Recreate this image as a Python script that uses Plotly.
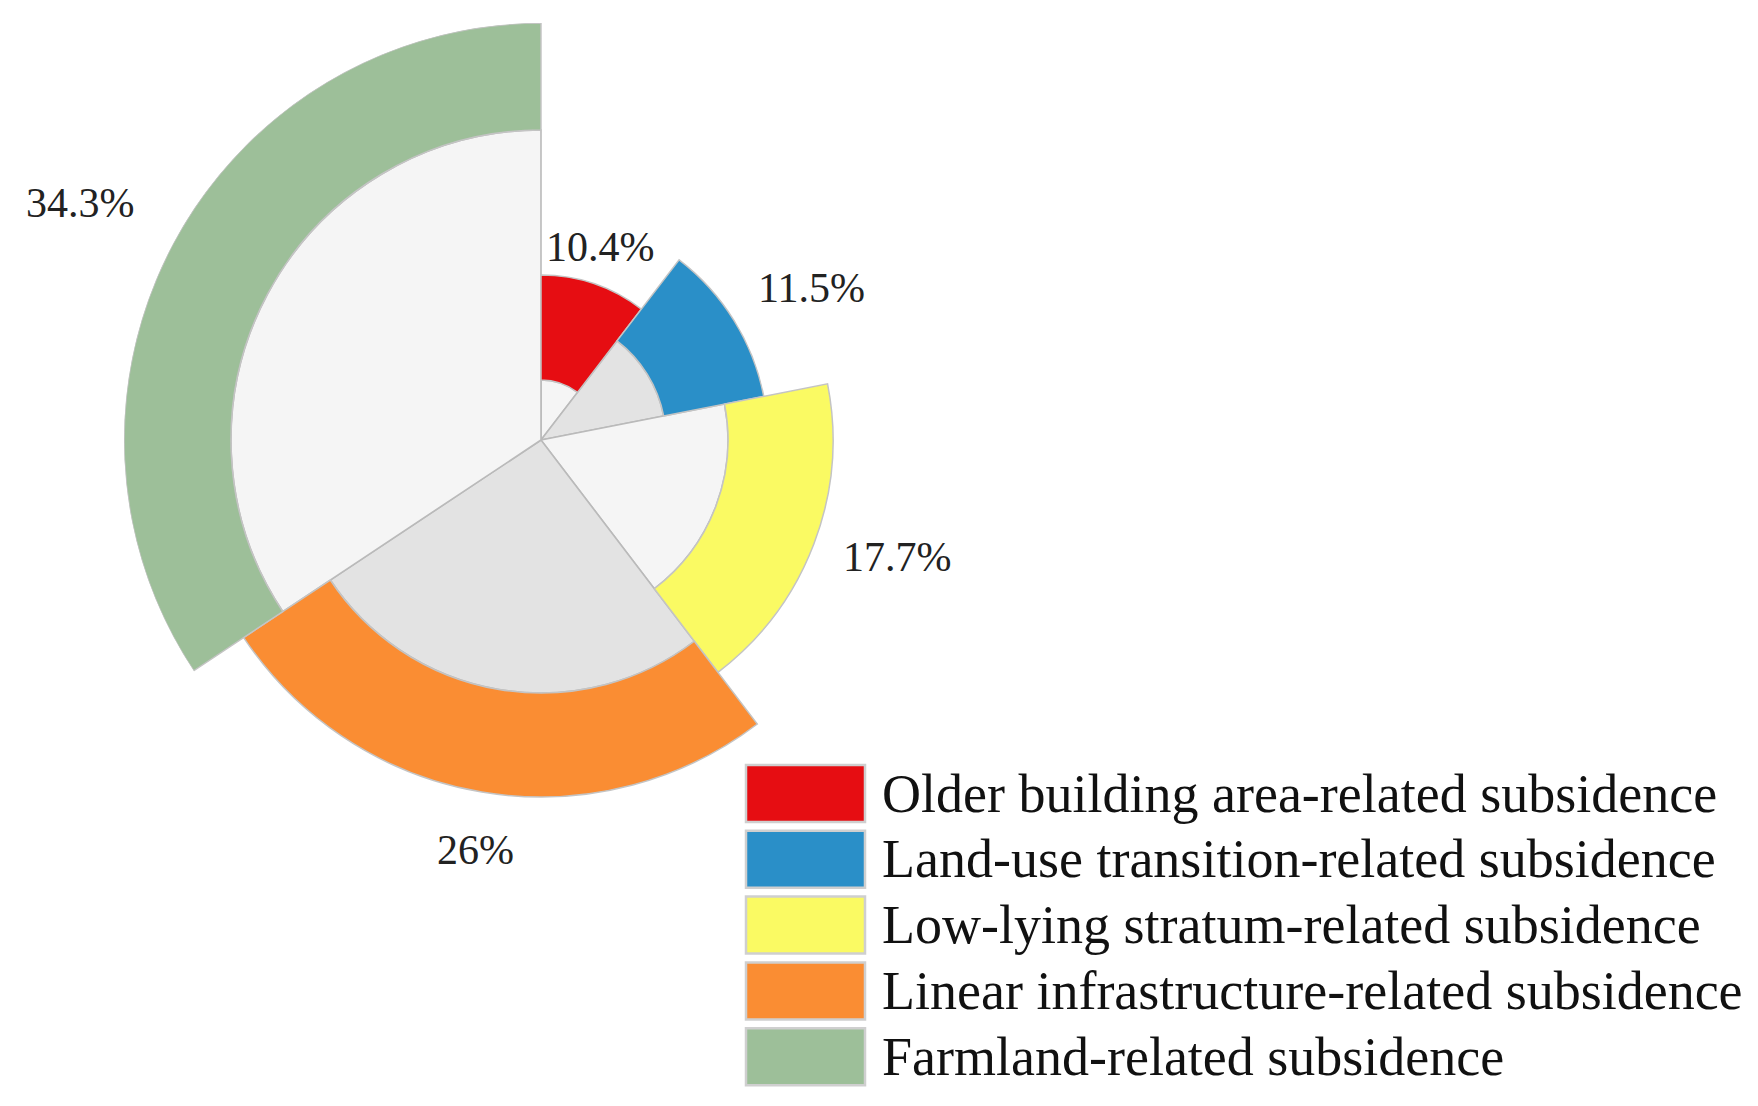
import math
import plotly.graph_objects as go

# ---- data ----
categories = [
    "Older building area-related subsidence",
    "Land-use transition-related subsidence",
    "Low-lying stratum-related subsidence",
    "Linear infrastructure-related subsidence",
    "Farmland-related subsidence",
]
percent = [10.4, 11.5, 17.7, 26.0, 34.3]
inner_r = [60, 125, 187, 253, 310]      # radius of grey core of each sector
outer_r = [165, 227, 292, 357, 417]     # outer radius of coloured band
label_r = [202, 310, 375, 415, 518]     # radius at which the % label sits
label_theta = [17.0, 60.6, 108.2, 189.1, 297.2]  # angle (deg, clockwise from top) of labels
colors = ["#e60d12", "#2a8fc8", "#fafa63", "#fa8d33", "#9dbf99"]
core_colors = ["#f5f5f5", "#e3e3e3", "#f5f5f5", "#e3e3e3", "#f5f5f5"]
labels = [f"{p:g}%" for p in percent]

# ---- geometry derived from data ----
total = sum(percent)
widths = [p / total * 360 for p in percent]
thetas = []
acc = 0
for w in widths:
    thetas.append(acc + w / 2)
    acc += w
band = [o - i for o, i in zip(outer_r, inner_r)]

W, H = 1758, 1106
OFF = 8                    # page body margin
CX, CY = 541 - OFF, 440 - OFF   # pixel centre of the polar chart
RMAX = outer_r[-1]


def px(x):
    return x / W


def py(y):
    return 1 - y / H


fig = go.Figure()

fig.add_trace(go.Barpolar(
    r=inner_r, theta=thetas, width=widths, base=0,
    marker=dict(color=core_colors, line=dict(color="#bababa", width=1.6)),
    showlegend=False, hoverinfo="skip",
))
fig.add_trace(go.Barpolar(
    r=band, theta=thetas, width=widths, base=inner_r,
    marker=dict(color=colors, line=dict(color="#c4c4c4", width=1.5)),
    showlegend=False, text=categories, hoverinfo="text",
))

fig.update_layout(
    width=W, height=H,
    margin=dict(l=0, r=0, t=0, b=0),
    paper_bgcolor="white",
    plot_bgcolor="white",
    polar=dict(
        domain=dict(x=[px(CX - RMAX), px(CX + RMAX)],
                    y=[py(CY + RMAX), py(CY - RMAX)]),
        bgcolor="rgba(0,0,0,0)",
        bargap=0,
        radialaxis=dict(range=[0, RMAX], visible=False, showgrid=False),
        angularaxis=dict(direction="clockwise", rotation=90, visible=False,
                         showgrid=False, thetaunit="degrees"),
    ),
)

# ---- percentage labels (some lie outside the radial range) ----
for txt, r, th in zip(labels, label_r, label_theta):
    a = math.radians(th)
    fig.add_annotation(
        xref="paper", yref="paper",
        x=px(CX + r * math.sin(a)), y=py(CY - r * math.cos(a)),
        text=txt, showarrow=False, xanchor="center", yanchor="middle",
        font=dict(family="Liberation Serif", size=42, color="#222222"),
    )

# ---- custom legend (large swatches) ----
LEG_X0, LEG_X1 = 746 - OFF, 865 - OFF
LEG_Y0, BOX_H, PITCH = 765 - OFF, 57, 65.8
TEXT_X = 880 - OFF
for i, (name, col) in enumerate(zip(categories, colors)):
    y0 = LEG_Y0 + i * PITCH
    fig.add_shape(type="rect", xref="paper", yref="paper",
                  x0=px(LEG_X0), x1=px(LEG_X1), y0=py(y0 + BOX_H), y1=py(y0),
                  fillcolor=col, line=dict(color="#cfcfcf", width=2.5))
    fig.add_annotation(xref="paper", yref="paper", x=px(TEXT_X),
                       y=py(y0 + BOX_H / 2), text=name, showarrow=False,
                       xanchor="left", yanchor="middle",
                       font=dict(family="Liberation Serif", size=54,
                                 color="#111111"))

fig.write_html("out.html")
